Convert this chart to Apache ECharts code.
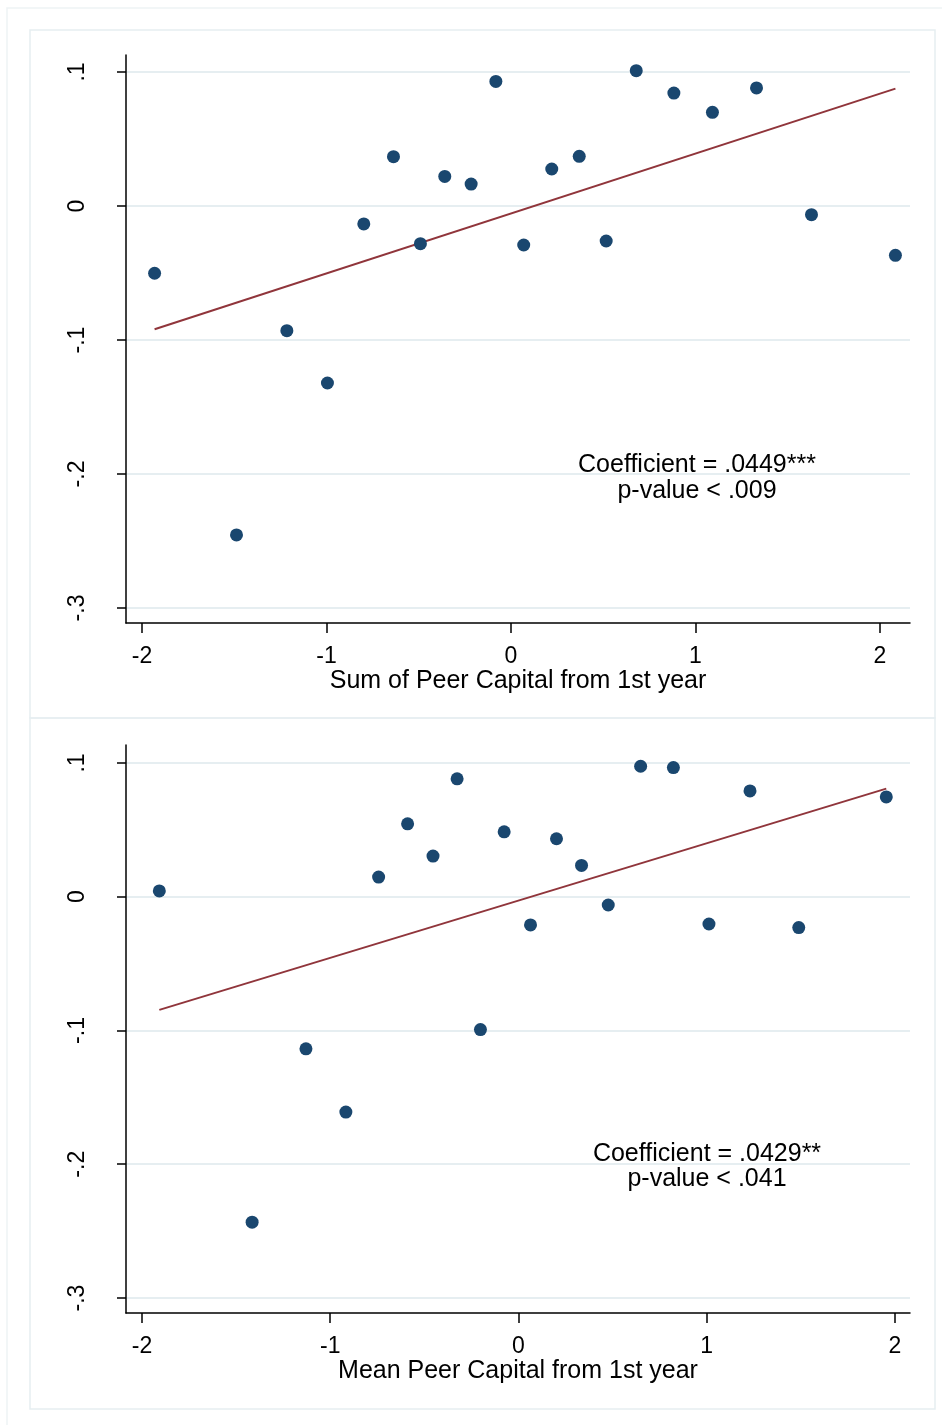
<!DOCTYPE html>
<html>
<head>
<meta charset="utf-8">
<script src="https://cdn.jsdelivr.net/npm/echarts@6/dist/echarts.min.js"></script>
<style>
html,body{margin:0;padding:0;background:#fff;}
#c{width:942px;height:1425px;}
</style>
</head>
<body>
<div id="c"></div>
<script>
// ---- data ----
const sumX = [-1.932,-1.488,-1.215,-0.995,-0.798,-0.637,-0.491,-0.359,-0.216,-0.082,0.069,0.221,0.370,0.516,0.679,0.883,1.092,1.331,1.629,2.084];
const sumY = [-0.0502,-0.2455,-0.0930,-0.1321,-0.0134,0.0368,-0.0281,0.0221,0.0164,0.0930,-0.0291,0.0276,0.0371,-0.0261,0.1010,0.0843,0.0699,0.0881,-0.0065,-0.0368];
const sumFitX = [-1.932, 2.084];
const sumFitY = [-0.0920, 0.0876];

const meanX = [-1.908,-1.415,-1.129,-0.917,-0.743,-0.589,-0.454,-0.326,-0.202,-0.076,0.064,0.202,0.335,0.477,0.649,0.823,1.012,1.230,1.489,1.954];
const meanY = [0.0043,-0.2433,-0.1137,-0.1610,0.0147,0.0545,0.0304,0.0881,-0.0993,0.0485,-0.0211,0.0433,0.0234,-0.0062,0.0975,0.0965,-0.0204,0.0791,-0.0231,0.0746];
const meanFitX = [-1.908, 1.954];
const meanFitY = [-0.0846, 0.0808];

const xTickValues = [-2, -1, 0, 1, 2];
const xTickLabels = ['-2', '-1', '0', '1', '2'];
const yTickValues = [-0.3, -0.2, -0.1, 0, 0.1];
const yTickLabels = ['-.3', '-.2', '-.1', '0', '.1'];

const xTitles = ['Sum of Peer Capital from 1st year', 'Mean Peer Capital from 1st year'];
const notes = [
  ['Coefficient = .0449***', 'p-value < .009'],
  ['Coefficient = .0429**', 'p-value < .041']
];

// ---- helpers ----
const FONT = '"Liberation Sans", Arial, Helvetica, sans-serif';
const NAVY = '#1a476f';
const MAROON = '#90353b';
const GRIDC = '#e6eef1';

function zip(xs, ys) { return xs.map((x, i) => [x, ys[i]]); }
function lookup(vals, labels, v) {
  for (let i = 0; i < vals.length; i++) if (Math.abs(vals[i] - v) < 1e-9) return labels[i];
  return '';
}

const panels = [
  { top: 55, xmin: -2.087, xmax: 2.163, ymin: -0.3112, ymax: 0.1127 },
  { top: 745, xmin: -2.085, xmax: 2.080, ymin: -0.3112, ymax: 0.1134 }
];

const grids = panels.map(p => ({ left: 126, top: p.top, width: 784, height: 568 }));

const xAxes = panels.map((p, i) => ({
  type: 'value', gridIndex: i, min: p.xmin, max: p.xmax,
  name: xTitles[i], nameLocation: 'middle', nameGap: 42,
  nameTextStyle: { fontFamily: FONT, fontSize: 25, color: '#000', lineHeight: 25 },
  axisLine: { show: true, onZero: false, lineStyle: { color: '#000', width: 1.5 } },
  axisTick: { show: true, length: 10, customValues: xTickValues, lineStyle: { color: '#000', width: 1.5 } },
  axisLabel: { customValues: xTickValues, margin: 22, fontFamily: FONT, fontSize: 23, lineHeight: 23, color: '#000',
    formatter: v => lookup(xTickValues, xTickLabels, v) },
  splitLine: { show: false }
}));

const yAxes = panels.map((p, i) => ({
  type: 'value', gridIndex: i, min: p.ymin, max: p.ymax,
  axisLine: { show: true, onZero: false, lineStyle: { color: '#000', width: 1.5 } },
  axisTick: { show: true, length: 9, customValues: yTickValues, lineStyle: { color: '#000', width: 1.5 } },
  axisLabel: { customValues: yTickValues, rotate: 90, margin: 37, fontFamily: FONT, fontSize: 23, lineHeight: 23, color: '#000',
    formatter: v => lookup(yTickValues, yTickLabels, v) },
  splitLine: { show: true, lineStyle: { color: GRIDC, width: 2 } }
}));

const series = [
  { type: 'scatter', xAxisIndex: 0, yAxisIndex: 0, data: zip(sumX, sumY), symbolSize: 13, itemStyle: { color: NAVY, opacity: 1 }, z: 3 },
  { type: 'line', xAxisIndex: 0, yAxisIndex: 0, data: zip(sumFitX, sumFitY), showSymbol: false, lineStyle: { color: MAROON, width: 2 }, z: 2 },
  { type: 'scatter', xAxisIndex: 1, yAxisIndex: 1, data: zip(meanX, meanY), symbolSize: 13, itemStyle: { color: NAVY, opacity: 1 }, z: 3 },
  { type: 'line', xAxisIndex: 1, yAxisIndex: 1, data: zip(meanFitX, meanFitY), showSymbol: false, lineStyle: { color: MAROON, width: 2 }, z: 2 }
];

const graphic = [
  { type: 'rect', shape: { x: 7, y: 8, width: 960, height: 1440 }, style: { fill: 'none', stroke: '#eef3f5', lineWidth: 1.5 }, silent: true, z: -10 },
  { type: 'rect', shape: { x: 30, y: 30, width: 905, height: 688 }, style: { fill: 'none', stroke: GRIDC, lineWidth: 1.5 }, silent: true, z: -10 },
  { type: 'rect', shape: { x: 30, y: 718, width: 905, height: 691 }, style: { fill: 'none', stroke: GRIDC, lineWidth: 1.5 }, silent: true, z: -10 },
  { type: 'text', x: 697, y: 478, style: { text: notes[0].join('\n'), font: '25px ' + FONT, fill: '#000', align: 'center', verticalAlign: 'middle', lineHeight: 26 }, z: 10 },
  { type: 'text', x: 707, y: 1167, style: { text: notes[1].join('\n'), font: '25px ' + FONT, fill: '#000', align: 'center', verticalAlign: 'middle', lineHeight: 25 }, z: 10 }
];

const chart = echarts.init(document.getElementById('c'), null, { renderer: 'canvas' });
chart.setOption({
  animation: false,
  backgroundColor: '#fff',
  grid: grids,
  xAxis: xAxes,
  yAxis: yAxes,
  series: series,
  graphic: graphic
});
</script>
</body>
</html>
